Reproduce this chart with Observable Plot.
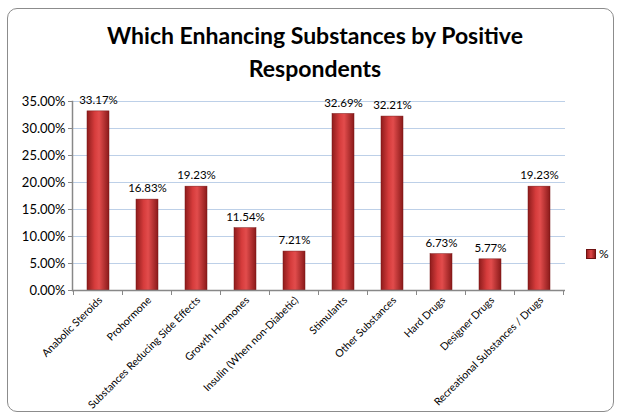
<!DOCTYPE html>
<html><head><meta charset="utf-8">
<script src="https://cdn.jsdelivr.net/npm/d3@7"></script>
<script src="https://cdn.jsdelivr.net/npm/@observablehq/plot@0.6"></script>
<style>
body{margin:0;background:#fff;}
#wrap{position:relative;width:621px;height:419px;overflow:hidden;font-family:Lato,"Open Sans",sans-serif;}
#border{position:absolute;left:7px;top:8px;width:607px;height:404px;border:1px solid #8c8c8c;border-radius:10px;box-sizing:border-box;}
#title{position:absolute;left:0;width:630px;top:19px;text-align:center;font-weight:bold;font-size:23px;line-height:33px;color:#000;}
#chart{position:absolute;left:0;top:0;}
#legend{position:absolute;left:586px;top:246px;font-size:12px;display:flex;align-items:center;}
#legend .sw{width:8px;height:8px;background:linear-gradient(to right,#9c1f1f,#e04848,#8a1a1a);border:0.5px solid #6e1212;margin-right:3px;}
</style>
</head><body>
<div id="wrap">
<div id="border"></div>
<div id="chart"></div>
<div id="title">Which Enhancing Substances by Positive<br>Respondents</div>
<div id="legend"><div class="sw"></div><span>%</span></div>
</div>
<script>
const categories = ["Anabolic Steroids","Prohormone","Substances Reducing Side Effects","Growth Hormones","Insulin (When non-Diabetic)","Stimulants","Other Substances","Hard Drugs","Designer Drugs","Recreational Substances / Drugs"];
const values = [33.17, 16.83, 19.23, 11.54, 7.21, 32.69, 32.21, 6.73, 5.77, 19.23];
const yTicks = [0, 5, 10, 15, 20, 25, 30, 35];
const data = categories.map((c, i) => ({category: c, value: values[i]}));
const pct = d => d.toFixed(2) + "%";

const chart = Plot.plot({
  width: 621, height: 419,
  marginLeft: 72, marginRight: 56, marginTop: 101, marginBottom: 129,
  style: {fontFamily: "Lato, 'Open Sans', sans-serif", fontSize: "11px", background: "transparent", color: "#000"},
  x: {domain: categories, paddingInner: 0.55, paddingOuter: 0.275, label: null, axis: null},
  y: {domain: [0, 35], label: null, axis: null},
  marks: [
    Plot.gridY(yTicks.filter(d => d > 0), {stroke: "#bdd0e8", strokeOpacity: 1}),
    Plot.barY(data, {x: "category", y: "value", fill: "url(#barGrad)", stroke: "#7a1515", strokeWidth: 0.5}),
    Plot.text(data, {x: "category", y: "value", text: d => pct(d.value), dy: -11, fontSize: 11.5}),
    Plot.axisY({ticks: yTicks, tickFormat: pct, tickSize: 4, tickPadding: 3, stroke: "#888", fontSize: 13, label: null}),
    Plot.axisX({tickRotate: -45, tickSize: 0, tickPadding: 6, fontSize: 10.5, label: null, dx: 2, dy: 2}),
    Plot.ruleY([0], {stroke: "#888", strokeWidth: 1.5}),
    Plot.frame({anchor: "left", stroke: "#888", strokeWidth: 1.5})
  ]
});

const svg = d3.select(chart);
const defs = svg.insert("defs", ":first-child");
const g = defs.append("linearGradient").attr("id", "barGrad").attr("x1", "0").attr("x2", "1").attr("y1", "0").attr("y2", "0");
g.append("stop").attr("offset", "0%").attr("stop-color", "#8e1c1c");
g.append("stop").attr("offset", "35%").attr("stop-color", "#d63c3c");
g.append("stop").attr("offset", "55%").attr("stop-color", "#e24c4c");
g.append("stop").attr("offset", "100%").attr("stop-color", "#8a1a1a");

// category separator tick marks on the x axis, placed with the plot's x scale
const xs = chart.scale("x");
const ys = chart.scale("y");
const y0 = ys.apply(0);
const bounds = categories.map(c => xs.apply(c) - (xs.step - xs.bandwidth) / 2);
bounds.push(bounds[bounds.length - 1] + xs.step);
svg.append("g").selectAll("line").data(bounds).join("line")
  .attr("x1", d => d).attr("x2", d => d).attr("y1", y0).attr("y2", y0 + 5)
  .attr("stroke", "#888").attr("stroke-width", 1);

document.getElementById("chart").appendChild(chart);
</script>
</body></html>
